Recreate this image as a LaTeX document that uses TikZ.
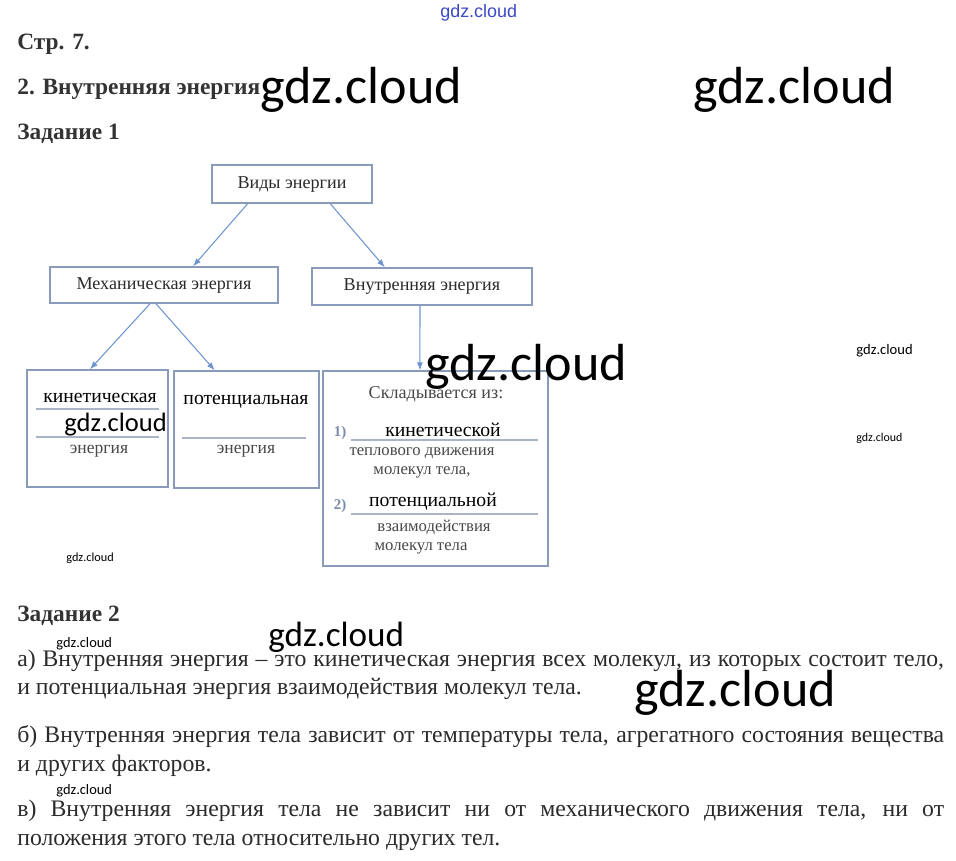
\documentclass[tikz,border=0pt]{standalone}
\usepackage{fontspec}
\setmainfont{Liberation Serif}
\newfontfamily\wmfont{Carlito}
\newfontfamily\wmsans{Liberation Sans}
\usetikzlibrary{calc,positioning,arrows.meta}
\definecolor{VDBorder}{HTML}{8A9BBA}
\definecolor{VDArrow}{HTML}{6E95CF}
\definecolor{VDRule}{HTML}{A9B4C6}
\definecolor{VDText}{HTML}{2B2B2B}
\definecolor{VDGray}{HTML}{484848}
\definecolor{VDNum}{HTML}{7A8BAB}
\definecolor{VDHead}{HTML}{333333}
\definecolor{WMBlue}{HTML}{3B48C8}
\tikzset{
  vdBox/.style={
    draw=VDBorder,
    line width=0.8pt,
    fill=white,
    inner sep=0pt
  },
  vdLabel/.style={
    font=\fontsize{10.3pt}{12pt}\selectfont,
    text=VDText,
    inner sep=0pt
  },
  vdFill/.style={
    font=\fontsize{11.2pt}{13pt}\selectfont,
    text=black,
    inner sep=0pt
  },
  vdHint/.style={
    font=\fontsize{9.5pt}{11pt}\selectfont,
    text=VDGray,
    inner sep=0pt
  },
  vdNum/.style={
    font=\bfseries\fontsize{8.5pt}{10pt}\selectfont,
    text=VDNum,
    inner sep=0pt
  },
  vdRule/.style={
    draw=VDRule,
    line width=0.6pt
  },
  vdArrow/.style={
    draw=VDArrow,
    line width=0.6pt,
    -{Latex[length=1.6mm,width=1.2mm]}
  },
  vdHead/.style={
    font=\bfseries\fontsize{13.3pt}{15pt}\selectfont,
    text=VDHead,
    anchor=base west,
    inner sep=0pt
  },
  vdBody/.style={
    font=\fontsize{13.5pt}{15pt}\selectfont,
    text=VDText,
    anchor=base west,
    inner sep=0pt
  },
  wmMark/.style={
    font=\wmfont\fontsize{#1}{#1}\selectfont,
    text=black,
    anchor=base west,
    inner sep=0pt
  }
}
\newcommand{\fullline}[1]{\makebox[18.54cm][s]{#1}}

\begin{document}
\begin{tikzpicture}[x=0.02cm,y=-0.02cm]
  \useasboundingbox (0,0) rectangle (956,860);
  \fill[white] (0,0) rectangle (956,860);

  \node (h1) [vdHead] at (17,49) {Стр. 7.};
  \node (h2) [vdHead] at (17,94) {2. Внутренняя энергия};
  \node (h3) [vdHead] at (17,139) {Задание 1};

  \node (vid) [vdBox, vdLabel, minimum width=3.2cm, minimum height=0.76cm] at (292,184) {Виды энергии};
  \node (mech) [vdBox, vdLabel, minimum width=4.56cm, minimum height=0.72cm] at (164,285) {Механическая энергия};
  \node (vnut) [vdBox, vdLabel, minimum width=4.4cm, minimum height=0.74cm] at (422,286.5) {Внутренняя энергия};
  \node (kin) [vdBox, minimum width=2.82cm, minimum height=2.34cm] at (97.5,428.5) {};
  \node (pot) [vdBox, minimum width=2.9cm, minimum height=2.34cm] at (246.5,429.5) {};
  \node (sum) [vdBox, minimum width=4.5cm, minimum height=3.9cm] at (435.5,468.5) {};

  \node (kinWord) [vdFill] at (100,398) {кинетическая};
  \node (kinHint) [vdHint, font=\fontsize{10pt}{11pt}\selectfont] at (99,451) {энергия};
  \node (potWord) [vdFill] at (246,402) {потенциальная};
  \node (potHint) [vdHint, font=\fontsize{10pt}{11pt}\selectfont] at (246,451) {энергия};
  \draw [vdRule] (kin.west |- 0,409) ++(10,0) -- ++(123,0);
  \draw [vdRule] (kin.west |- 0,437) ++(10,0) -- ++(123,0);
  \draw [vdRule] (pot.west |- 0,438) ++(9,0) -- ++(124,0);

  \node (sumHead) [vdHint, font=\fontsize{10.3pt}{12pt}\selectfont] at (436,394) {Складывается из:};
  \node (num1) [vdNum] at (340,433) {1)};
  \node (sumKin) [vdFill] at (443,430) {кинетической};
  \node (sumKinA) [vdHint] at (422,453) {теплового движения};
  \node (sumKinB) [vdHint] at (422,472) {молекул тела,};
  \node (num2) [vdNum] at (340,506) {2)};
  \node (sumPot) [vdFill] at (433,502) {потенциальной};
  \node (sumPotA) [vdHint] at (434,527) {взаимодействия};
  \node (sumPotB) [vdHint] at (421,548) {молекул тела};
  \draw [vdRule] (num1.east |- 0,440) ++(4,0) -- (538,440);
  \draw [vdRule] (num2.east |- 0,514) ++(4,0) -- (538,514);

  \draw [vdArrow] ($(vid.south west)!0.225!(vid.south east)$) -- ($(mech.north west)!0.627!(mech.north east)$);
  \draw [vdArrow] ($(vid.south west)!0.7375!(vid.south east)$) -- ($(vnut.north west)!0.332!(vnut.north east)$);
  \draw [vdArrow] ($(mech.south west)!0.439!(mech.south east)$) -- ($(kin.north west)!0.447!(kin.north east)$);
  \draw [vdArrow] ($(mech.south west)!0.465!(mech.south east)$) -- ($(pot.north west)!0.283!(pot.north east)$);
  \draw [vdArrow] ($(vnut.south west)!0.491!(vnut.south east)$) -- ($(sum.north west)!0.431!(sum.north east)$);

  \node (h4) [vdHead] at (17,621) {Задание 2};
  \node (a1) [vdBody] at (17,666) {\fullline{а) Внутренняя энергия -- это кинетическая энергия всех молекул, из которых состоит тело,}};
  \node (a2) [vdBody] at (17,694) {и потенциальная энергия взаимодействия молекул тела.};
  \node (b1) [vdBody] at (17,742) {\fullline{б) Внутренняя энергия тела зависит от температуры тела, агрегатного состояния вещества}};
  \node (b2) [vdBody] at (17,771) {и других факторов.};
  \node (c1) [vdBody] at (17,816) {\fullline{в) Внутренняя энергия тела не зависит ни от механического движения тела, ни от}};
  \node (c2) [vdBody] at (17,845) {положения этого тела относительно других тел.};

  \node (wmTop) [anchor=base west, inner sep=0pt, font=\wmsans\fontsize{10.2pt}{11pt}\selectfont, text=WMBlue] at (440,17) {gdz.cloud};
  \node (wm1) [wmMark=29.7pt] at (260,103) {gdz.cloud};
  \node (wm2) [wmMark=29.7pt] at (693,103) {gdz.cloud};
  \node (wm3) [wmMark=29.7pt] at (425,380) {gdz.cloud};
  \node (wm4) [wmMark=29.7pt] at (634,706) {gdz.cloud};
  \node (wm5) [wmMark=15.1pt] at (64,431) {gdz.cloud};
  \node (wm6) [wmMark=20pt] at (268,646) {gdz.cloud};
  \node (wm7) [wmMark=8.3pt] at (856,354) {gdz.cloud};
  \node (wm8) [wmMark=6.8pt] at (856,441) {gdz.cloud};
  \node (wm9) [wmMark=7pt] at (66,561) {gdz.cloud};
  \node (wm10) [wmMark=8.2pt] at (56,647) {gdz.cloud};
  \node (wm11) [wmMark=8.2pt] at (56,794) {gdz.cloud};
\end{tikzpicture}
\end{document}
